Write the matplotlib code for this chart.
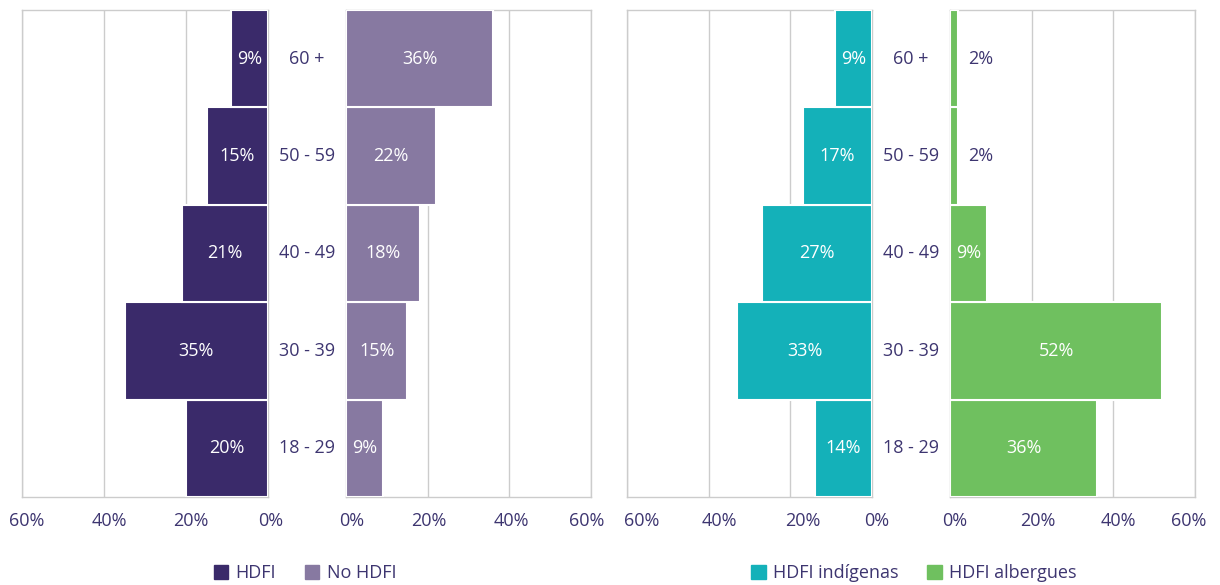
import matplotlib.pyplot as plt
from matplotlib.patches import Patch
import matplotlib.transforms as mtrans

# data
ages = ['18 - 29', '30 - 39', '40 - 49', '50 - 59', '60 +']
hdfi = [20, 35, 21, 15, 9]
no_hdfi = [9, 15, 18, 22, 36]
hdfi_indigenas = [14, 33, 27, 17, 9]
hdfi_albergues = [36, 52, 9, 2, 2]
ticks = [0, 20, 40, 60]

c_hdfi = '#3a2a6a'
c_no_hdfi = '#8779a1'
c_indig = '#14b1b9'
c_alb = '#6fc05f'
txt = '#3d3570'
grid_c = '#cccccc'
fs = 13

plt.rcParams['font.family'] = ['Open Sans', 'DejaVu Sans']

fig = plt.figure(figsize=(12.2, 5.85), dpi=100)

bottom = 1 - 497 / 585
height = 487 / 585


def style(ax, left_side, nudge):
    ax.set_ylim(-0.5, 4.5)
    ax.set_yticks([])
    if left_side:
        ax.set_xlim(60, 0)
    else:
        ax.set_xlim(0, 60)
    ax.set_xticks(ticks)
    ax.set_xticklabels([])
    ax.tick_params(axis='x', length=0)
    ax.grid(axis='x', color=grid_c, lw=1)
    ax.set_axisbelow(True)
    for s in ax.spines.values():
        s.set_color(grid_c)
        s.set_linewidth(1)
    # tick labels drawn by hand so the end ones can be nudged like the original
    base = ax.get_xaxis_transform()
    for t, dx in zip(ticks, nudge):
        tr = base + mtrans.ScaledTranslation(dx / 100, 0, fig.dpi_scale_trans)
        ax.text(t, -0.05, f'{t}%', transform=tr, ha='center', va='center',
                color=txt, fontsize=fs, clip_on=False)


def bars(ax, vals, color):
    y = range(len(vals))
    ax.barh(y, vals, height=1.0, color=color, edgecolor='white', linewidth=1.5, zorder=3)
    for i, v in enumerate(vals):
        if v < 5:
            ax.text(v + 2.5, i, f'{v}%', ha='left', va='center', color=txt, fontsize=fs, zorder=4)
        else:
            ax.text(v / 2, i, f'{v}%', ha='center', va='center', color='white', fontsize=fs, zorder=4)


# pixel nudges for labels 0%, 20%, 40%, 60%
panels = [
    (22, 268, hdfi, c_hdfi, True, [3, 5, 5, 5]),
    (346, 591, no_hdfi, c_no_hdfi, False, [6, 1, 2, -4]),
    (627, 872, hdfi_indigenas, c_indig, True, [5, 12, 11, 15]),
    (950, 1195, hdfi_albergues, c_alb, False, [5, 6, 5, -6]),
]
for x0, x1, vals, col, left_side, nudge in panels:
    ax = fig.add_axes([x0 / 1220, bottom, (x1 - x0) / 1220, height])
    style(ax, left_side, nudge)
    bars(ax, vals, col)

# age labels between the halves
for xc in (307, 911):
    for i, a in enumerate(ages):
        yy = bottom + height * (i + 0.5) / 5
        fig.text(xc / 1220, yy, a, ha='center', va='center', color=txt, fontsize=fs)

# legends
leg_kw = dict(loc='center', frameon=False, ncol=2, fontsize=fs, labelcolor=txt,
              handlelength=0.8, handleheight=0.8, handletextpad=0.4, columnspacing=1.6)
fig.legend(handles=[Patch(color=c_hdfi, label='HDFI'), Patch(color=c_no_hdfi, label='No HDFI')],
           bbox_to_anchor=(305 / 1220, 1 - 573 / 585), **leg_kw)
fig.legend(handles=[Patch(color=c_indig, label='HDFI indígenas'), Patch(color=c_alb, label='HDFI albergues')],
           bbox_to_anchor=(914 / 1220, 1 - 573 / 585), **leg_kw)

plt.savefig('out.png', dpi=100)
